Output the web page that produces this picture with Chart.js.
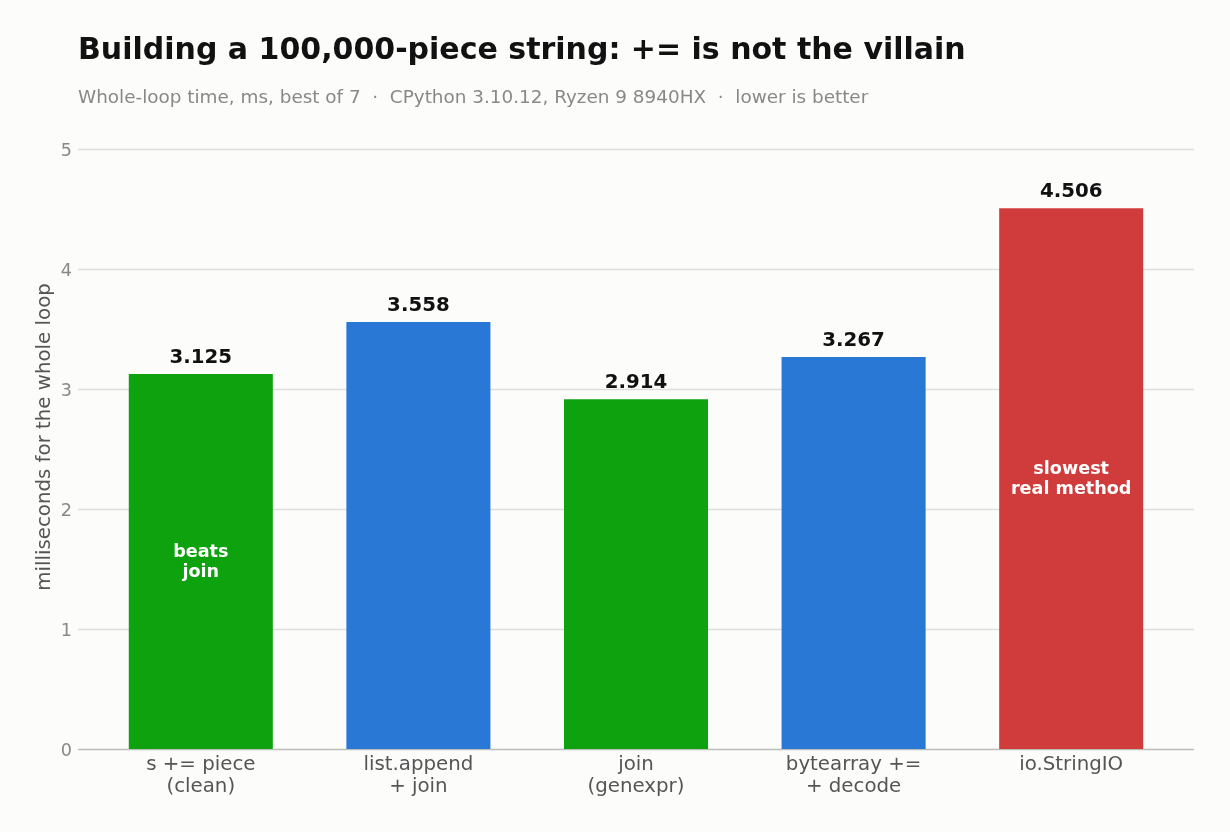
<!DOCTYPE html>
<html lang="en">
<head>
    <meta charset="UTF-8">
    <title>Building a 100,000-piece string</title>
    <script src="https://cdn.jsdelivr.net/npm/chart.js"></script>
    <style>
        html, body { margin: 0; padding: 0; background: #fcfcfb; }
        #wrap { width: 1230px; height: 832px; }
    </style>
</head>
<body>
    <div id="wrap"><canvas id="myChart" width="1230" height="832"></canvas></div>

    <script>
        // data
        const methods = [['s += piece', '(clean)'], ['list.append', '+ join'], ['join', '(genexpr)'], ['bytearray +=', '+ decode'], 'io.StringIO'];
        const timesMs = [3.125, 3.558, 2.914, 3.267, 4.506];
        const barColors = ['#0ea30e', '#2a78d6', '#0ea30e', '#2a78d6', '#d03c3c'];
        const barNotes = [['beats', 'join'], null, null, null, ['slowest', 'real method']];
        const yTicks = [0, 1, 2, 3, 4, 5];

        const FONT = '"DejaVu Sans", sans-serif';

        const labelsPlugin = {
            id: 'labelsPlugin',
            beforeDatasetsDraw: (chart) => {
                const { ctx, scales: { y } } = chart;
                ctx.save();
                ctx.strokeStyle = '#dededa';
                ctx.lineWidth = 1.3;
                yTicks.forEach(v => {
                    if (v === 0) return;
                    const py = Math.round(y.getPixelForValue(v)) + 0.5;
                    ctx.beginPath();
                    ctx.moveTo(78, py);
                    ctx.lineTo(1194, py);
                    ctx.stroke();
                });
                ctx.strokeStyle = '#bdbdb8';
                const p0 = Math.round(y.getPixelForValue(0)) + 0.5;
                ctx.beginPath();
                ctx.moveTo(78, p0);
                ctx.lineTo(1194, p0);
                ctx.stroke();
                ctx.restore();
            },
            afterDatasetsDraw: (chart) => {
                const { ctx, scales: { y } } = chart;
                const meta = chart.getDatasetMeta(0);
                ctx.save();
                ctx.textAlign = 'center';
                ctx.textBaseline = 'middle';
                meta.data.forEach((bar, i) => {
                    ctx.fillStyle = '#111';
                    ctx.font = 'bold 19.8px ' + FONT;
                    ctx.fillText(timesMs[i].toFixed(3), bar.x, bar.y - 16);
                    if (barNotes[i]) {
                        const mid = y.getPixelForValue(timesMs[i] / 2);
                        ctx.fillStyle = '#ffffff';
                        ctx.font = 'bold 17.6px ' + FONT;
                        const n = barNotes[i].length;
                        barNotes[i].forEach((line, k) => {
                            ctx.fillText(line, bar.x, mid + 1 + (k - (n - 1) / 2) * 19.5);
                        });
                    }
                });
                // y axis title
                ctx.save();
                ctx.translate(45, 437);
                ctx.rotate(-Math.PI / 2);
                ctx.fillStyle = '#555';
                ctx.font = '19.8px ' + FONT;
                ctx.fillText('milliseconds for the whole loop', 0, 0);
                ctx.restore();
                // title + subtitle
                ctx.textAlign = 'left';
                ctx.textBaseline = 'middle';
                ctx.fillStyle = '#111';
                ctx.font = 'bold 30px ' + FONT;
                ctx.fillText('Building a 100,000-piece string: += is not the villain', 78, 51);
                ctx.fillStyle = '#888';
                ctx.font = '18.4px ' + FONT;
                ctx.fillText('Whole-loop time, ms, best of 7  \u00b7  CPython 3.10.12, Ryzen 9 8940HX  \u00b7  lower is better', 78, 98);
                ctx.restore();
            }
        };

        const config = {
            type: 'bar',
            data: {
                labels: methods,
                datasets: [{
                    data: timesMs,
                    backgroundColor: barColors,
                    categoryPercentage: 1,
                    barPercentage: 0.662
                }]
            },
            options: {
                responsive: false,
                animation: false,
                layout: { padding: { top: 149, right: 50, bottom: 0, left: 0 } },
                plugins: {
                    legend: { display: false },
                    tooltip: { enabled: false }
                },
                scales: {
                    x: {
                        grid: { display: false, drawTicks: false },
                        border: { display: false },
                        ticks: {
                            color: '#555',
                            font: { family: FONT, size: 19.8, lineHeight: 1.1 },
                            padding: 5,
                            maxRotation: 0
                        },
                        afterFit: (s) => { s.height = 83; }
                    },
                    y: {
                        min: 0,
                        max: 5,
                        grid: { display: false, drawTicks: false },
                        border: { display: false },
                        ticks: {
                            stepSize: 1,
                            color: '#888',
                            font: { family: FONT, size: 17.6 },
                            padding: 20,
                            labelOffset: 2
                        },
                        afterFit: (s) => { s.width = 92; }
                    }
                }
            },
            plugins: [labelsPlugin]
        };

        new Chart(document.getElementById('myChart').getContext('2d'), config);
    </script>
</body>
</html>
